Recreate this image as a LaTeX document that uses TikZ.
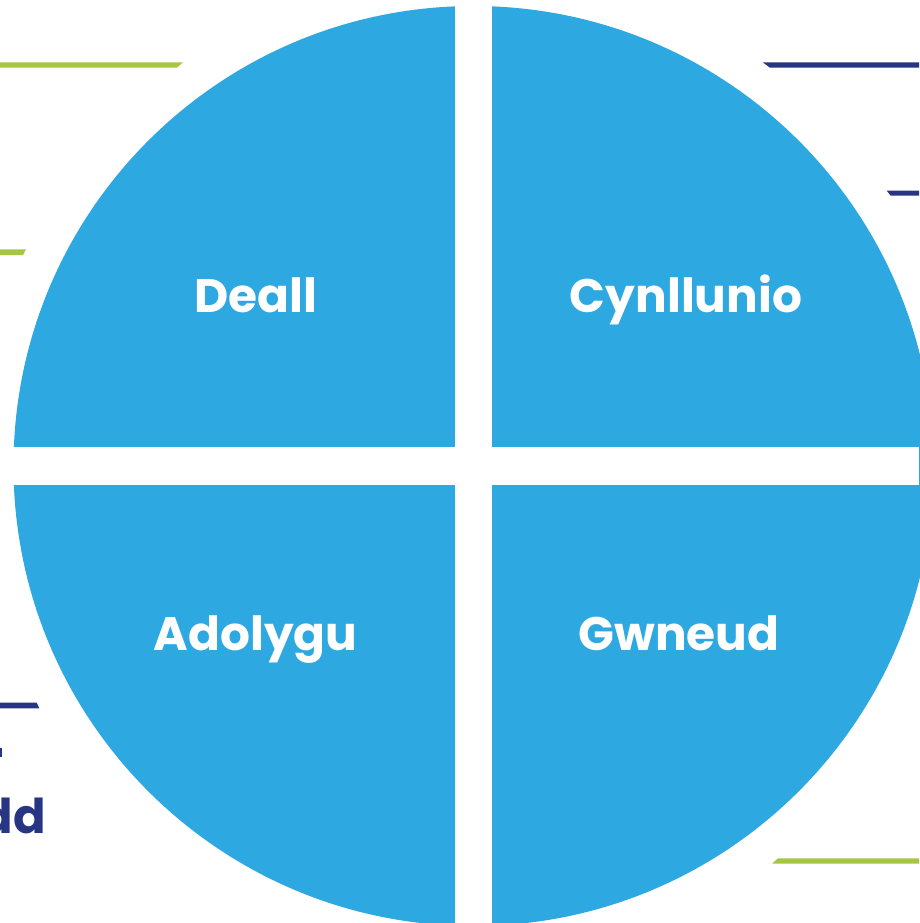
\documentclass[tikz,border=0pt]{standalone}
\usepackage{fontspec}
\setmainfont{Poppins}
\usepackage{tikz}
\usetikzlibrary{calc}
\definecolor{cycleblue}{RGB}{46,168,224}
\definecolor{barGreen}{RGB}{166,198,66}
\definecolor{barNavy}{RGB}{40,53,131}
\tikzset{quarter/.style={text=white, font=\fontsize{47}{50}\selectfont\bfseries, inner sep=0pt, anchor=base}}
\begin{document}
\begin{tikzpicture}[x=1pt,y=-1pt]
    \useasboundingbox (0,0) rectangle (919,923);
    % the disc and the white cross
    \fill[cycleblue] (473.5,466) circle (460);
    \fill[white] (455,0) rectangle (492,923);
    \fill[white] (0,447.3) rectangle (919,485);

    % green bars
    \fill[barGreen] (0,62.3) -- (183,62.3) -- (177,67.7) -- (0,67.7) -- cycle;
    \fill[barGreen] (0,249.3) -- (26,249.3) -- (23,255) -- (0,255) -- cycle;
    \fill[barGreen] (778,858.3) -- (919,858.3) -- (919,863.7) -- (772,863.7) -- cycle;
    % navy bars
    \fill[barNavy] (762.7,62.3) -- (919,62.3) -- (919,67.7) -- (770,67.7) -- cycle;
    \fill[barNavy] (886.7,190.7) -- (919,190.7) -- (919,195.7) -- (890.7,195.7) -- cycle;
    \fill[barNavy] (0,702.7) -- (36.7,702.7) -- (39.3,708.3) -- (0,708.3) -- cycle;
    \fill[barNavy] (0,748.3) rectangle (2,757.3);

    % quarter labels
    \node[quarter] (deall) at (256,312) {Deall};
    \node[quarter] (cynllunio) at (686,312) {Cynllunio};
    \node[quarter] (adolygu) at (255.5,650) {Adolygu};
    \node[quarter] (gwneud) at (679,650) {Gwneud};

    % cut-off word at the left
    \node[text=barNavy, font=\fontsize{48}{50}\selectfont\bfseries, inner sep=0pt, anchor=base east] (dd) at (46,833) {dd};
\end{tikzpicture}
\end{document}
